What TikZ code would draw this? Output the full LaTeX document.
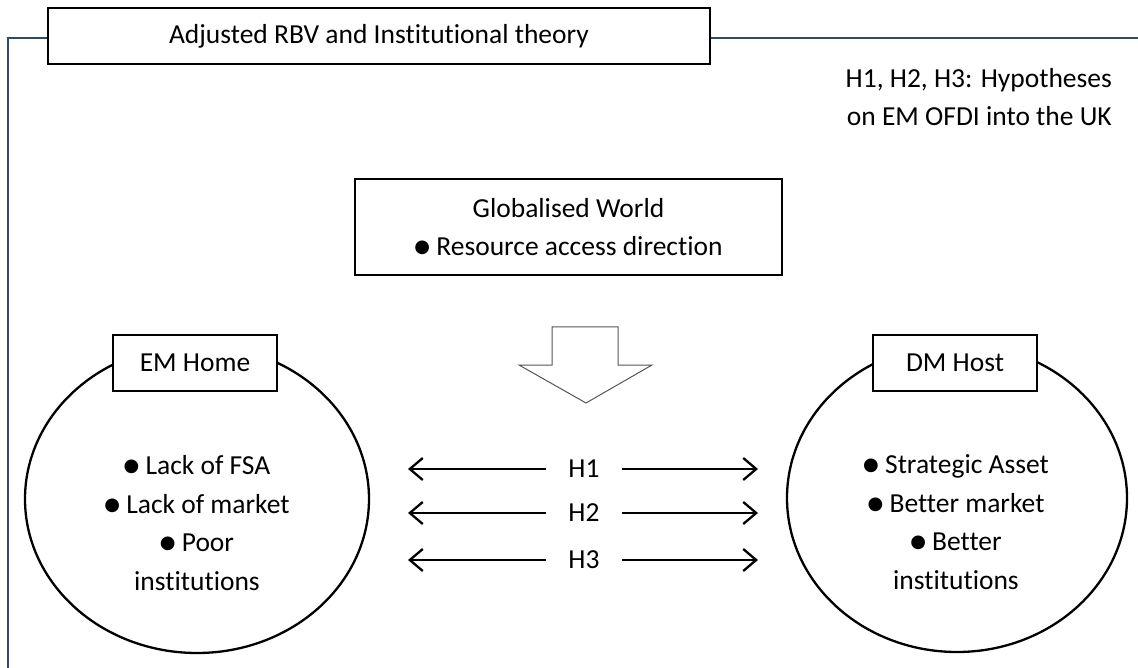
\documentclass[tikz,border=0pt]{standalone}
\usepackage{fontspec}
\setmainfont{Carlito}[Ligatures={NoCommon}]
\newfontfamily\dvfont{DejaVu Sans}
\usetikzlibrary{arrows.meta,shapes.geometric}
\newcommand{\bul}{\raisebox{3pt}{\dvfont\fontsize{18}{18}\selectfont ●}}
\definecolor{framecol}{HTML}{2F4A72}
\definecolor{arrgray}{HTML}{555555}
\tikzset{
  box/.style={draw=black,line width=2.3pt,fill=white,rectangle,inner sep=0pt,font=\fontsize{27.5}{38.5}\selectfont,align=center},
  oval/.style={draw=black,line width=2.3pt,ellipse,inner sep=0pt},
  txt/.style={inner sep=0pt,font=\fontsize{27.5}{38.5}\selectfont,align=center},
  harr/.style={line width=2.3pt,-{Straight Barb[length=13pt,width=22pt,line width=2.3pt]}},
}
\begin{document}
\begin{tikzpicture}[x=1pt,y=1pt]
\useasboundingbox (0,0) rectangle (1138,-668);
% frame
\draw[framecol,line width=1.2pt] (1138,-38) -- (8,-38) -- (8,-668);
% title
\node[box,minimum width=662,minimum height=56] (title) at (379,-36) {Adjusted RBV and Institutional theory};
% legend
\node[txt,anchor=east,align=right] (legend) at (1112,-97) {H1, H2, H3: Hypotheses\\on EM OFDI into the UK};
% globalised world
\node[box,minimum width=427,minimum height=96] (glob) at (568.5,-227) {Globalised World\\\bul\ Resource access direction};
% block arrow
\draw[arrgray,line width=1pt,line join=miter] (552,-327) -- (618,-327) -- (618,-365) -- (652,-365) -- (586,-403) -- (519,-365) -- (552,-365) -- cycle;
% ellipses
\node[oval,minimum width=344,minimum height=308] (emh) at (197,-499) {};
\node[oval,minimum width=340,minimum height=308] (dmh) at (957,-498) {};
\node[box,minimum width=164,minimum height=56] (emlab) at (195,-363) {EM Home};
\node[box,minimum width=164,minimum height=56] (dmlab) at (955,-363) {DM Host};
\node[txt] (emtxt) at (197,-523) {\bul\ Lack of FSA\\\bul\ Lack of market\\\bul\ Poor\\institutions};
\node[txt] (dmtxt) at (956,-522) {\bul\ Strategic Asset\\\bul\ Better market\\\bul\ Better\\institutions};
% hypotheses
\foreach \n/\y in {1/469,2/513,3/560}{
  \node[txt,minimum width=76,minimum height=30] (h\n) at (584,-\y) {H\n};
  \coordinate (h\n l) at (408,-\y);
  \coordinate (h\n r) at (758,-\y);
  \draw[harr] (h\n.west) -- (h\n l);
  \draw[harr] (h\n.east) -- (h\n r);
}
\end{tikzpicture}
\end{document}
